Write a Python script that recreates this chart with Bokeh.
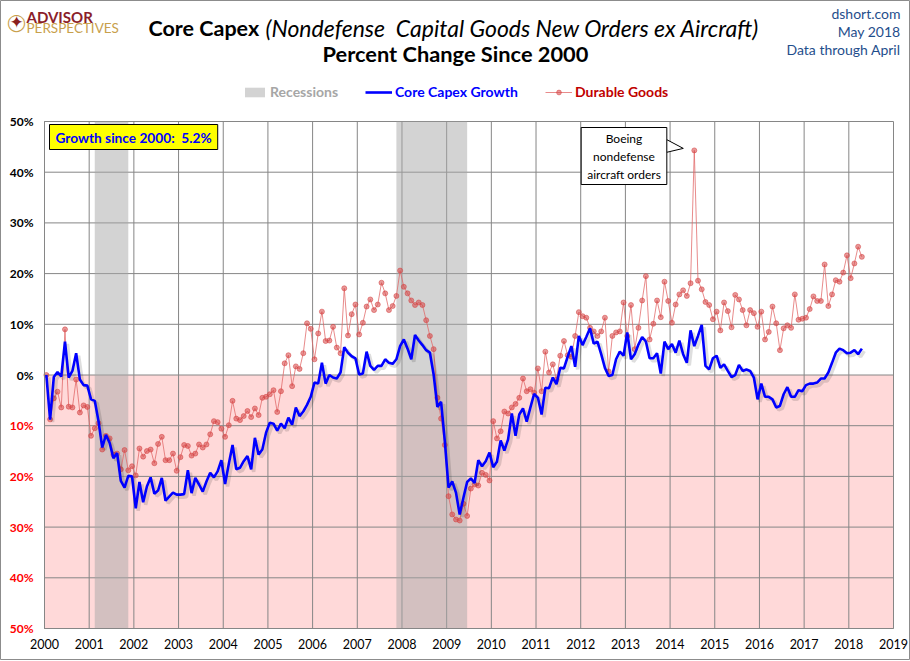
import numpy as np
from bokeh.plotting import figure
from bokeh.models import FixedTicker, Label, Legend, LegendItem, LinearAxis, Range1d
from bokeh.embed import file_html
from bokeh.resources import INLINE

FONT = "Lato"

# ---------------- data (monthly, Jan 2000 .. Apr 2018, % change since Jan 2000) -------------
start_year = 2000
core_capex = [
    0.0, -8.8, -0.4, 0.6, -0.3, 6.6, -0.5, 0.8, 4.3, -0.9, -2.0, -2.1,          # 2000
    -4.8, -5.1, -9.1, -14.3, -11.8, -13.4, -16.4, -15.4, -20.9, -22.2, -19.9, -20.0,  # 2001
    -26.3, -21.1, -25.1, -22.0, -20.2, -23.4, -22.8, -20.3, -24.8, -24.0, -23.2, -23.6,  # 2002
    -23.6, -23.5, -18.8, -23.3, -20.3, -21.6, -23.0, -21.0, -19.3, -20.2, -19.0, -16.8,  # 2003
    -21.5, -17.5, -13.8, -18.6, -18.3, -17.0, -16.0, -18.6, -12.4, -15.7, -14.7, -11.4,  # 2004
    -9.4, -9.6, -11.0, -9.6, -10.5, -8.4, -9.8, -6.4, -8.1, -7.2, -5.9, -4.3,    # 2005
    -1.5, -1.7, 2.4, -1.7, 0.0, -0.5, -0.7, 0.5, 5.5, 4.4, 3.7, 3.3,            # 2006
    0.1, 0.3, 4.6, 1.8, 1.0, 1.8, 1.8, 3.1, 2.4, 2.2, 3.1, 5.7,                 # 2007
    7.0, 5.2, 3.1, 7.9, 6.8, 5.9, 4.9, 4.4, 0.1, -6.3, -5.3, -13.0,             # 2008
    -22.2, -21.0, -23.2, -27.5, -24.2, -21.1, -20.4, -21.3, -16.8, -18.0, -17.0, -15.3,  # 2009
    -18.2, -17.1, -12.9, -14.9, -12.7, -7.6, -12.0, -7.8, -6.6, -9.2, -6.4, -3.7,  # 2010
    -4.5, -7.8, -2.5, -2.6, -0.5, -1.8, 1.4, 1.3, 3.6, 5.7, 1.6, 7.7,           # 2011
    5.9, 7.5, 9.2, 6.2, 6.6, 4.1, 1.4, -0.2, 0.0, 3.1, 4.6, 3.8,                # 2012
    8.4, 3.1, 4.1, 6.0, 7.5, 6.6, 3.3, 3.3, 4.3, 0.3, 6.6, 5.1,                 # 2013
    6.1, 4.4, 6.8, 4.1, 2.4, 8.8, 5.7, 7.7, 9.9, 1.8, 1.1, 3.3,                 # 2014
    3.8, 1.4, 2.1, 0.8, -0.4, 0.0, 2.0, 0.8, 1.1, 0.8, -0.5, -4.8,              # 2015
    -1.7, -4.3, -4.3, -4.8, -6.4, -6.1, -3.8, -2.4, -4.3, -4.3, -3.0, -3.2,     # 2016
    -2.0, -1.7, -1.7, -1.5, -0.7, -0.7, 0.5, 2.4, 4.4, 5.2, 4.9, 4.3,           # 2017
    4.4, 4.9, 4.1, 5.2,                                                          # 2018
]
durable_goods = [
    0.0, -8.75, -4.6, -3.3, -6.4, 9.0, -6.25, -6.4, -0.9, -7.4, -6.0, -6.3,     # 2000
    -12.0, -10.5, -9.5, -14.7, -12.0, -12.5, -15.7, -15.5, -18.6, -14.8, -18.8, -18.0,  # 2001
    -19.8, -14.5, -16.1, -15.0, -14.7, -17.4, -13.6, -12.2, -16.8, -16.8, -15.5, -18.9,  # 2002
    -16.2, -13.8, -14.0, -15.9, -15.5, -13.7, -14.3, -13.7, -11.7, -9.1, -9.3, -10.6,  # 2003
    -12.2, -9.9, -5.1, -8.6, -8.9, -8.1, -7.1, -8.3, -6.6, -7.9, -4.5, -4.3,    # 2004
    -3.8, -3.0, -7.3, -3.2, 2.3, 3.9, -2.2, 1.7, 1.2, 4.3, 10.2, 9.1,           # 2005
    3.1, 8.2, 12.5, 6.7, 6.8, 9.5, 5.4, 4.3, 17.1, 7.8, 12.0, 13.9,             # 2006
    8.0, 10.3, 13.5, 14.9, 12.8, 13.9, 18.2, 16.1, 12.8, 13.6, 15.6, 20.6,      # 2007
    17.4, 16.1, 14.7, 13.8, 14.3, 13.8, 10.8, 7.7, 5.1, -4.5, -8.6, -13.8,      # 2008
    -23.9, -27.5, -28.5, -28.7, -25.4, -27.8, -22.4, -21.6, -21.8, -19.3, -19.7, -20.8,  # 2009
    -9.1, -12.5, -11.1, -7.2, -7.6, -6.4, -5.7, -4.5, -0.7, -3.2, -2.8, -3.5,   # 2010
    1.3, -3.2, 4.6, 0.5, 2.1, -0.9, 3.8, 6.7, 3.9, 3.6, 7.7, 12.4,              # 2011
    11.6, 11.3, 9.3, 8.6, 7.7, 8.6, 11.3, 0.7, 7.7, 8.4, 8.6, 14.3,             # 2012
    7.7, 13.8, 5.1, 9.3, 14.7, 19.5, 7.0, 10.1, 14.7, 11.4, 18.4, 14.6,         # 2013
    10.3, 13.9, 15.9, 16.7, 15.6, 18.1, 44.3, 18.6, 16.9, 14.4, 13.8, 11.0,     # 2014
    12.5, 8.8, 14.3, 12.6, 9.4, 15.8, 14.9, 12.8, 9.8, 12.8, 12.2, 9.5,         # 2015
    12.5, 7.0, 8.5, 13.5, 10.2, 4.9, 9.2, 9.8, 9.3, 15.9, 10.9, 11.1,           # 2016
    11.3, 13.0, 15.5, 14.6, 14.6, 21.8, 13.6, 15.9, 18.7, 18.4, 20.2, 23.6,     # 2017
    19.1, 22.0, 25.3, 23.3,                                                      # 2018
]
recession_start = [(2001, 3), (2007, 12)]
recession_end = [(2001, 11), (2009, 6)]
y_ticks = [-50, -40, -30, -20, -10, 0, 10, 20, 30, 40, 50]
year_ticks = list(range(2000, 2020))
year_labels = [str(y) for y in year_ticks]

# ---------------- derived positions -------------
n = len(core_capex)
xs = np.array([start_year + (i + 0.5) / 12 for i in range(n)])
capex = np.array(core_capex)
durable = np.array(durable_goods)
rec_left = [y + (m - 1.5) / 12 for (y, m) in recession_start]
rec_right = [y + (m - 0.5) / 12 for (y, m) in recession_end]
growth_since_2000 = core_capex[-1]

X_MIN, X_MAX = year_ticks[0], year_ticks[-1]
Y_MIN, Y_MAX = y_ticks[0], y_ticks[-1]

# layout (pixels): canvas 910 x 660; plot area left 44, right 893, top 121, bottom 628
W, H = 910, 660
PL, PR, PT, PB = 44, 893, 121, 628
PXX = (PR - PL) / (X_MAX - X_MIN)
PXY = (PB - PT) / (Y_MAX - Y_MIN)
X_LO = X_MIN - PL / PXX
X_HI = X_MIN + (W - PL) / PXX
Y_HI = Y_MAX + PT / PXY
Y_LO = Y_MIN - (H - PB) / PXY

RED_LINE = "#E06464"
RED_PT = "#D64545"
BLUE = "#0000FF"
REC = "#A8A8A8"
GRID = "#868686"

p = figure(width=W, height=H, x_range=Range1d(X_LO, X_HI), y_range=Range1d(Y_LO, Y_HI),
           output_backend="svg", toolbar_location=None, min_border=0,
           min_border_left=0, min_border_right=0, min_border_top=0, min_border_bottom=0)
p.outline_line_color = "#8C8C8C"
p.outline_line_width = 1
p.background_fill_color = "white"
p.border_fill_color = "white"
p.grid.visible = False

# ---- axes (pinned to the plot-area edges)
p.xaxis.ticker = FixedTicker(ticks=year_ticks)
p.xaxis.major_label_overrides = {t: l for t, l in zip(year_ticks, year_labels)}
p.xaxis.fixed_location = Y_MIN
p.xaxis.bounds = (X_MIN, X_MAX)
p.yaxis.ticker = FixedTicker(ticks=y_ticks)
p.yaxis.major_label_overrides = {t: (f"{t}%" if t >= 0 else "") for t in y_ticks}
p.yaxis.fixed_location = X_MIN
p.yaxis.bounds = (Y_MIN, Y_MAX)

neg_ticks = [t for t in y_ticks if t < 0]
neg_axis = LinearAxis(ticker=FixedTicker(ticks=neg_ticks),
                      major_label_overrides={t: f"{-t}%" for t in neg_ticks},
                      fixed_location=X_MIN, bounds=(Y_MIN, Y_MAX))
p.add_layout(neg_axis, "left")

for ax in (p.xaxis[0], p.yaxis[0], neg_axis):
    ax.axis_line_color = GRID
    ax.major_tick_line_color = None
    ax.minor_tick_line_color = None
    ax.major_tick_out = 0
    ax.major_tick_in = 0
    ax.major_label_text_font = FONT
    ax.major_label_text_color = "black"
p.xaxis.major_label_text_font_size = "12.5px"
p.xaxis.major_label_standoff = 10
for ax in (p.yaxis[0], neg_axis):
    ax.major_label_text_font_size = "12px"
    ax.major_label_text_font_style = "bold"
    ax.major_label_standoff = 11
neg_axis.major_label_text_color = "#FF0000"

# ---- background, grid and marks
p.quad(left=[X_MIN], right=[X_MAX], bottom=[Y_MIN], top=[0], fill_color="#FFD9D9",
       line_color=None, level="image")
p.segment(x0=X_MIN, x1=X_MAX, y0=y_ticks, y1=y_ticks, line_color=GRID, line_width=1,
          level="underlay")
p.segment(x0=year_ticks, x1=year_ticks, y0=Y_MIN, y1=Y_MAX, line_color=GRID, line_width=1,
          level="underlay")
rec_r = p.quad(left=rec_left, right=rec_right, bottom=Y_MIN, top=Y_MAX,
               fill_color=REC, fill_alpha=0.5, line_color=None, level="underlay")
dg_line = p.line(xs, durable, line_color=RED_LINE, line_alpha=0.75, line_width=1)
dg_pts = p.scatter(xs, durable, size=5, fill_color=RED_PT, fill_alpha=0.55,
                   line_color=RED_PT, line_alpha=0.55)
p.line(xs + 2.5 / PXX, capex - 2.5 / PXY, line_color="black", line_alpha=0.13, line_width=3.5)
cc_line = p.line(xs, capex, line_color=BLUE, line_width=2.6)

# callout pointer for the Boeing spike
k = int(np.argmax(durable))
tipx, tipy = xs[k] - 11 / PXX, durable[k] + 2 / PXY
basex = tipx - 17 / PXX
p.patch([basex, tipx, basex], [tipy + 9 / PXY, tipy, tipy - 4 / PXY],
        fill_color="white", line_color="black", line_width=1)

# ---- text helpers (picture pixels -> data)
def dx(X):
    return X_LO + X / PXX
def dy(Y):
    return Y_HI - Y / PXY

def lab(X, Y, text, size, color="black", style="normal", align="left", font=FONT, **kw):
    p.add_layout(Label(x=dx(X), y=dy(Y), text=text, text_align=align, text_baseline="middle",
                       text_font=font, text_font_size=size, text_font_style=style,
                       text_color=color, **kw))

growth_text = f"Growth since 2000:\u00a0 {growth_since_2000:.1f}%"
box = dict(padding=(6, 4))
lab(49, 136.5, growth_text, "13.7px", style="bold", text_alpha=0, x_offset=3, y_offset=-3,
    background_fill_color="#7F7F7F", background_fill_alpha=0.6, **box)
lab(49, 136.5, growth_text, "13.7px", color=BLUE, style="bold", background_fill_color="#FFFF00",
    border_line_color="black", border_line_width=1, **box)

cal_text = "Boeing\nnondefense\naircraft orders"
cbox = dict(padding=(6, 3))
lab(623.5, 155.5, cal_text, "12px", align="center", text_line_height=1.2, text_alpha=0,
    x_offset=3, y_offset=-3, background_fill_color="#7F7F7F", background_fill_alpha=0.5, **cbox)
lab(623.5, 155.5, cal_text, "12px", align="center", text_line_height=1.2,
    background_fill_color="white", border_line_color="black", border_line_width=1, **cbox)

# titles
lab(148, 27, "Core Capex", "21.5px", style="bold")
lab(265, 27, "(Nondefense\u00a0 Capital Goods New Orders ex Aircraft)", "23px", style="italic")
lab(455, 53, "Percent Change Since 2000", "21.8px", style="bold", align="center")
for txt, yy in (("dshort.com", 13), ("May 2018", 31), ("Data through April", 49)):
    lab(900, yy, txt, "14px", color="#1F4E8C", align="right")

# logo
lab(16, 21, "\u25EF", "17px", color="#C8A04C", align="center", font="DejaVu Sans")
lab(16, 21, "\u2726", "17px", color="#8B1E1E", align="center", font="DejaVu Sans")
lab(26, 16, "ADVISOR", "15px", color="#8B1E2A", style="bold")
lab(26, 27.5, "PERSPECTIVES", "13.5px", color="#C8A04C")

# legends (each label in its own colour), placed above the plot area
def add_leg(label, renderers, color, xref, gw):
    leg = Legend(items=[LegendItem(label=label, renderers=renderers)],
                 location=(xref, H - 100), orientation="horizontal",
                 glyph_width=gw, glyph_height=12, label_height=16, label_standoff=3,
                 label_text_color=color, label_text_font=FONT, label_text_font_size="14px",
                 label_text_font_style="bold", padding=0, margin=0, spacing=0,
                 border_line_color=None, background_fill_alpha=0)
    p.add_layout(leg, "center")

add_leg("Recessions", [rec_r], "#A6A6A6", 242, 25)
add_leg("Core Capex Growth", [cc_line], BLUE, 365, 27)
add_leg("Durable Goods", [dg_line, dg_pts], "#C00000", 545, 27)

open("out.html", "w").write(file_html(p, INLINE))
